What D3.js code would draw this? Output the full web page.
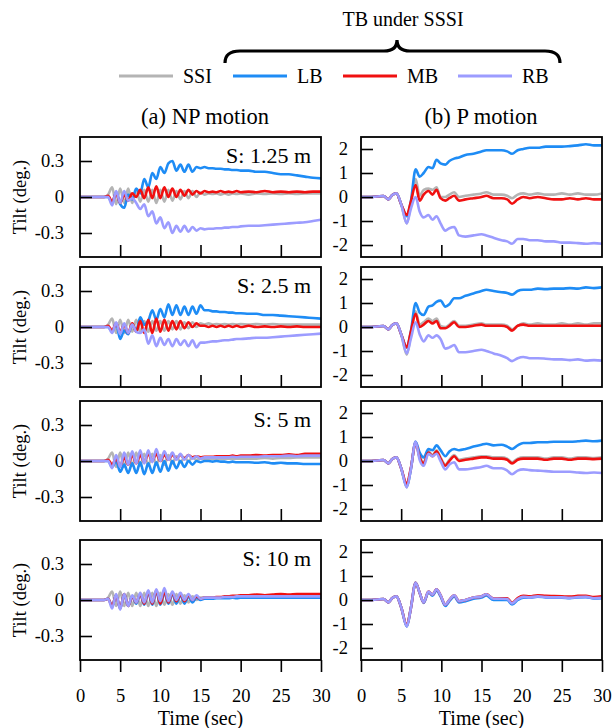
<!DOCTYPE html>
<html><head><meta charset="utf-8">
<script src="https://cdn.jsdelivr.net/npm/d3@7/dist/d3.min.js"></script>
<style>body{margin:0;background:#fff}svg{display:block}svg text{font-family:"Liberation Serif","Times New Roman",serif !important;fill:#000}</style>
</head><body>
<script>
// ---------------- DATA ----------------
const seriesNames = ["SSI","LB","MB","RB"];
const legendLabels = ["SSI","LB","MB","RB"];
const spacings = ["S: 1.25 m","S: 2.5 m","S: 5 m","S: 10 m"];
const colTitles = ["(a) NP motion","(b) P motion"];
const groupTitle = "TB under SSSI";
const xTicks = [0,5,10,15,20,25,30];
const yTicksNP = [-0.3,0,0.3];
const yTicksP = [-2,-1,0,1,2];

// time samples (sec)
const timeNP = [0,0.5,1,1.5,2,2.5,3, 3.5,4,4.5,5,5.5,6,6.5,7,7.5,8, 8.5,9,9.5,10,10.5,11,11.5,12,12.5,13,
  13.5,14,14.5,15,15.5,16,16.5,17,17.5,18, 18.5,19,19.5,20, 21,22,23,24,25,26,27,28,29,30];
const timeP = [0,1,2,2.8,3.4,3.9,4.4,5.0,5.7,6.2,6.8,7.3,7.8,8.4,8.9,9.4,9.9,10.5,11.0,11.6,12.2,13.0,14.0,15.0,15.6,16.5,
  17.5,18.2,18.8,19.5,20.2,21,22,23,24,25,26,27,28,29,30];

// ---- NP motion, tilt (deg) ----
const np125_SSI = [0,0,0,0,0,0,0, 0.02,0.08,-0.06,0.07,-0.05,0.07,-0.05,0.06,-0.04,0.06, -0.04,0.06,-0.05,0.06,-0.04,0.06,-0.03,0.05,-0.02,0.05,
  -0.01,0.05,0.0,0.04,0.02,0.03,0.025,0.03,0.02,0.03, 0.02,0.03,0.025,0.03, 0.02,0.03,0.025,0.03,0.025,0.03,0.025,0.03,0.03,0.03];
const np125_LB = [0,0,0,0,0,0,0, 0.0,-0.05,0.04,-0.06,-0.09,0.02,-0.02,0.07,0.03,0.15, 0.08,0.2,0.15,0.25,0.2,0.28,0.3,0.22,0.27,0.21,
  0.27,0.21,0.25,0.24,0.25,0.24,0.24,0.235,0.235,0.23, 0.23,0.225,0.225,0.22, 0.22,0.21,0.21,0.2,0.19,0.19,0.18,0.17,0.16,0.155];
const np125_MB = [0,0,0,0,0,0,0, 0.01,-0.04,0.03,-0.05,0.02,-0.03,0.03,0.0,0.06,-0.01, 0.08,-0.01,0.09,-0.01,0.08,0.0,0.07,0.0,0.06,0.01,
  0.06,0.02,0.05,0.03,0.05,0.04,0.045,0.04,0.05,0.04, 0.045,0.04,0.05,0.04, 0.045,0.04,0.05,0.04,0.045,0.04,0.045,0.04,0.045,0.045];
const np125_RB = [0,0,0,0,0,0,0, 0.0,-0.07,0.05,-0.05,0.05,-0.03,-0.01,-0.05,-0.1,-0.06, -0.16,-0.12,-0.22,-0.17,-0.26,-0.21,-0.3,-0.24,-0.29,-0.24,
  -0.29,-0.25,-0.28,-0.26,-0.27,-0.265,-0.265,-0.26,-0.26,-0.255, -0.255,-0.25,-0.25,-0.245, -0.24,-0.24,-0.235,-0.23,-0.225,-0.22,-0.215,-0.21,-0.2,-0.19];

const np25_SSI = [0,0,0,0,0,0,0, 0.02,0.07,-0.05,0.06,-0.05,0.06,-0.04,0.06,-0.04,0.05, -0.04,0.05,-0.03,0.05,-0.03,0.05,-0.02,0.05,-0.02,0.04,
  -0.01,0.04,0.0,0.03,0.02,0.03,0.02,0.025,0.02,0.025, 0.02,0.025,0.02,0.025, 0.02,0.025,0.02,0.025,0.02,0.02,0.02,0.02,0.02,0.02];
const np25_LB = [0,0,0,0,0,0,0, 0.0,-0.04,0.03,-0.1,-0.03,-0.06,0.02,-0.03,0.08,0.02, 0.05,0.14,0.06,0.15,0.08,0.19,0.1,0.18,0.1,0.17,
  0.1,0.17,0.11,0.18,0.14,0.14,0.13,0.13,0.125,0.125, 0.12,0.12,0.115,0.115, 0.11,0.11,0.1,0.1,0.095,0.09,0.085,0.08,0.075,0.07];
const np25_MB = [0,0,0,0,0,0,0, 0.01,-0.03,0.03,-0.04,0.02,-0.05,0.03,-0.04,0.05,-0.05, 0.06,-0.05,0.07,-0.04,0.06,-0.03,0.05,-0.02,0.05,-0.01,
  0.04,0.0,0.03,0.01,0.01,0.0,0.01,0.0,0.01,0.0, 0.01,0.0,0.01,0.0, 0.01,0.0,0.005,0.0,0.005,0.0,0.005,0.0,0.0,0.0];
const np25_RB = [0,0,0,0,0,0,0, 0.0,-0.05,0.04,-0.06,0.03,-0.05,0.02,-0.04,-0.05,-0.02, -0.14,-0.07,-0.16,-0.09,-0.15,-0.1,-0.16,-0.1,-0.15,-0.11,
  -0.16,-0.11,-0.17,-0.13,-0.13,-0.125,-0.12,-0.12,-0.115,-0.11, -0.11,-0.105,-0.1,-0.1, -0.095,-0.09,-0.09,-0.085,-0.08,-0.075,-0.07,-0.065,-0.06,-0.055];

const np5_SSI = [0,0,0,0,0,0,0, 0.02,0.07,-0.05,0.07,-0.05,0.07,-0.04,0.07,-0.04,0.06, -0.04,0.06,-0.03,0.05,-0.03,0.05,-0.02,0.04,-0.01,0.03,
  0.0,0.03,0.01,0.02,0.02,0.02,0.02,0.02,0.02,0.02, 0.02,0.02,0.02,0.02, 0.02,0.02,0.025,0.02,0.025,0.025,0.03,0.03,0.03,0.03];
const np5_LB = [0,0,0,0,0,0,0, 0.0,-0.05,0.0,-0.09,-0.03,-0.1,-0.02,-0.1,-0.01,-0.11, -0.02,-0.1,-0.01,-0.09,0.0,-0.08,0.0,-0.06,0.0,-0.05,
  0.0,-0.03,0.0,-0.01,0.0,0.0,-0.005,0.0,-0.005,-0.005, -0.01,-0.005,-0.01,-0.01, -0.01,-0.015,-0.01,-0.02,-0.015,-0.02,-0.02,-0.025,-0.025,-0.025];
const np5_MB = [0,0,0,0,0,0,0, 0.01,-0.03,0.02,-0.04,0.03,-0.03,0.05,-0.02,0.05,-0.01, 0.06,0.0,0.06,0.0,0.05,0.01,0.05,0.02,0.05,0.02,
  0.05,0.03,0.04,0.03,0.035,0.035,0.035,0.04,0.04,0.04, 0.04,0.045,0.04,0.045, 0.045,0.05,0.045,0.05,0.05,0.055,0.05,0.06,0.06,0.06];
const np5_RB = [0,0,0,0,0,0,0, 0.0,-0.06,0.05,-0.05,0.07,-0.03,0.08,-0.02,0.09,-0.02, 0.09,-0.01,0.1,0.0,0.08,0.01,0.07,0.01,0.06,0.01,
  0.05,0.02,0.04,0.02,0.03,0.03,0.03,0.03,0.03,0.03, 0.03,0.035,0.03,0.035, 0.035,0.035,0.04,0.04,0.04,0.045,0.04,0.045,0.045,0.045];

const np10_SSI = [0,0,0,0,0,0,0, 0.02,0.07,-0.05,0.07,-0.05,0.06,-0.05,0.06,-0.05,0.06, -0.05,0.06,-0.05,0.06,-0.04,0.05,-0.04,0.05,-0.03,0.04,
  -0.02,0.03,0.0,0.02,0.02,0.02,0.02,0.02,0.02,0.02, 0.02,0.02,0.02,0.02, 0.02,0.02,0.02,0.02,0.02,0.02,0.02,0.02,0.02,0.02];
const np10_LB = [0,0,0,0,0,0,0, 0.01,-0.05,0.04,-0.07,0.05,-0.05,0.03,-0.03,0.05,-0.04, 0.06,-0.04,0.07,-0.04,0.06,-0.03,0.05,-0.03,0.04,-0.03,
  0.03,-0.02,0.02,0.0,0.01,0.01,0.01,0.015,0.015,0.015, 0.015,0.02,0.015,0.02, 0.02,0.02,0.02,0.02,0.02,0.02,0.02,0.02,0.02,0.02];
const np10_MB = [0,0,0,0,0,0,0, 0.01,-0.05,0.04,-0.07,0.05,-0.05,0.03,-0.02,0.05,-0.03, 0.07,-0.03,0.08,-0.03,0.07,-0.02,0.06,-0.01,0.05,-0.01,
  0.04,0.0,0.03,0.01,0.02,0.02,0.02,0.025,0.025,0.03, 0.03,0.035,0.035,0.04, 0.04,0.045,0.04,0.045,0.05,0.045,0.05,0.05,0.05,0.05];
const np10_RB = [0,0,0,0,0,0,0, 0.01,-0.07,0.05,-0.08,0.05,-0.05,0.04,-0.02,0.06,-0.02, 0.08,-0.02,0.09,-0.01,0.1,-0.01,0.07,0.0,0.06,0.0,
  0.05,0.0,0.04,0.01,0.02,0.02,0.02,0.02,0.02,0.025, 0.025,0.025,0.03,0.03, 0.03,0.03,0.03,0.03,0.03,0.03,0.03,0.03,0.03,0.03];

// ---- P motion, tilt (deg) ----
const p125_SSI = [0,0,0.02,0.04,-0.1,0.08,0.15,-0.3, -1.1,-0.3,0.75,0.05,0.3,0.35,0.3,0.4,0.0,0.0,0.1,0.2,0.0,0.05,0.1,0.15,0.2,0.1,
  0.1,0.05,-0.05,0.1,0.15,0.1,0.15,0.1,0.1,0.15,0.1,0.15,0.1,0.1,0.15];
const p125_LB = [0,0,0.02,0.04,-0.1,0.08,0.15,-0.3, -0.8,-0.2,1.15,0.85,1.0,1.25,1.2,1.55,1.4,1.35,1.5,1.6,1.65,1.75,1.8,1.9,1.95,1.95,
  1.95,1.9,1.8,1.95,2.0,2.05,2.05,2.1,2.1,2.1,2.12,2.15,2.2,2.15,2.15];
const p125_MB = [0,0,0.02,0.04,-0.1,0.08,0.15,-0.3, -0.75,-0.2,0.5,-0.15,0.1,0.25,0.1,0.3,-0.05,-0.15,-0.05,0.05,-0.15,-0.1,-0.05,0.0,0.05,-0.05,
  -0.05,-0.1,-0.28,-0.1,0.0,-0.05,0.0,-0.05,-0.1,-0.1,-0.05,-0.1,-0.05,-0.1,-0.1];
const p125_RB = [0,0,0.02,0.04,-0.1,0.08,0.15,-0.3, -1.1,-0.5,0.0,-0.6,-0.85,-0.75,-0.95,-0.8,-1.1,-1.4,-1.3,-1.25,-1.6,-1.65,-1.6,-1.55,-1.6,-1.7,
  -1.8,-1.85,-1.95,-1.75,-1.75,-1.8,-1.8,-1.85,-1.85,-1.9,-1.9,-1.92,-1.95,-1.92,-1.95];

const p25_SSI = [0,0,0.02,0.04,-0.1,0.08,0.15,-0.3, -1.15,-0.35,0.65,0.1,0.2,0.35,0.25,0.35,0.05,0.0,0.1,0.25,0.05,0.05,0.1,0.15,0.1,0.1,
  0.1,0.05,-0.1,0.05,0.15,0.1,0.15,0.1,0.1,0.15,0.1,0.15,0.1,0.15,0.15];
const p25_LB = [0,0,0.02,0.04,-0.1,0.08,0.15,-0.3, -0.85,-0.2,1.0,0.6,0.5,0.85,0.9,1.05,1.1,0.85,0.95,1.2,1.2,1.3,1.4,1.5,1.55,1.5,
  1.45,1.42,1.35,1.5,1.55,1.55,1.6,1.58,1.6,1.6,1.62,1.6,1.65,1.62,1.65];
const p25_MB = [0,0,0.02,0.04,-0.1,0.08,0.15,-0.3, -0.85,-0.2,0.55,0.0,0.1,0.25,0.15,0.25,-0.05,-0.05,0.05,0.2,0.0,0.0,0.05,0.1,0.05,0.05,
  0.05,0.0,-0.15,0.05,0.1,0.05,0.05,0.05,0.05,0.05,0.05,0.05,0.05,0.05,0.05];
const p25_RB = [0,0,0.02,0.04,-0.1,0.08,0.15,-0.3, -1.1,-0.5,0.2,-0.3,-0.6,-0.35,-0.45,-0.35,-0.5,-0.9,-0.85,-0.75,-1.05,-1.05,-1.0,-0.95,-1.0,-1.1,
  -1.2,-1.3,-1.42,-1.3,-1.25,-1.3,-1.3,-1.32,-1.35,-1.35,-1.38,-1.35,-1.4,-1.38,-1.4];

const p5_SSI = [0,0,0.02,0.04,-0.1,0.08,0.15,-0.3, -1.1,-0.35,0.8,0.2,-0.05,0.4,0.25,0.45,0.15,-0.15,0.05,0.25,0.05,0.1,0.15,0.2,0.2,0.15,
  0.15,0.1,-0.05,0.1,0.15,0.15,0.15,0.1,0.15,0.15,0.1,0.15,0.15,0.12,0.15];
const p5_LB = [0,0,0.02,0.04,-0.1,0.08,0.15,-0.3, -1.05,-0.35,0.8,0.35,0.15,0.5,0.45,0.65,0.45,0.2,0.4,0.5,0.45,0.5,0.6,0.68,0.72,0.65,
  0.68,0.6,0.5,0.65,0.75,0.75,0.78,0.78,0.8,0.8,0.8,0.82,0.85,0.82,0.85];
const p5_MB = [0,0,0.02,0.04,-0.1,0.08,0.15,-0.3, -0.95,-0.3,0.75,0.15,-0.1,0.35,0.2,0.4,0.1,-0.2,0.0,0.2,0.0,0.05,0.1,0.15,0.15,0.1,
  0.1,0.05,-0.1,0.05,0.1,0.1,0.1,0.05,0.1,0.1,0.05,0.1,0.1,0.08,0.1];
const p5_RB = [0,0,0.02,0.04,-0.1,0.08,0.15,-0.3, -1.1,-0.35,0.8,0.05,-0.2,0.3,0.2,0.3,0.0,-0.35,-0.15,-0.05,-0.35,-0.35,-0.3,-0.25,-0.2,-0.3,
  -0.3,-0.4,-0.55,-0.4,-0.35,-0.38,-0.4,-0.42,-0.45,-0.45,-0.45,-0.48,-0.5,-0.48,-0.5];

const p10_SSI = [0,0,0.02,0.04,-0.1,0.08,0.15,-0.3, -1.1,-0.35,0.72,0.3,-0.1,0.35,0.22,0.45,0.2,-0.2,0.0,0.2,-0.05,0.0,0.1,0.15,0.24,0.05,
  0.05,0.05,-0.14,0.05,0.14,0.12,0.17,0.13,0.12,0.12,0.1,0.13,0.15,0.08,0.1];
const p10_LB = [0,0,0.02,0.04,-0.1,0.08,0.15,-0.3, -1.1,-0.35,0.72,0.3,-0.12,0.32,0.18,0.4,0.15,-0.25,-0.05,0.15,-0.1,-0.05,0.05,0.1,0.19,0.0,
  0.0,0.0,-0.19,0.0,0.1,0.1,0.14,0.11,0.1,0.1,0.08,0.11,0.12,0.06,0.08];
const p10_MB = [0,0,0.02,0.04,-0.1,0.08,0.15,-0.3, -1.05,-0.35,0.72,0.3,-0.1,0.35,0.22,0.45,0.2,-0.2,0.0,0.2,-0.05,0.0,0.1,0.15,0.24,0.06,
  0.07,0.07,-0.12,0.08,0.17,0.15,0.2,0.17,0.16,0.15,0.14,0.17,0.18,0.12,0.15];
const p10_RB = [0,0,0.02,0.04,-0.1,0.08,0.15,-0.3, -1.1,-0.35,0.72,0.3,-0.1,0.35,0.22,0.45,0.2,-0.2,0.0,0.2,-0.05,0.0,0.1,0.15,0.24,0.05,
  0.05,0.04,-0.14,0.04,0.13,0.11,0.15,0.12,0.11,0.11,0.09,0.12,0.13,0.07,0.09];

const npRows = [[np125_SSI,np125_LB,np125_MB,np125_RB],[np25_SSI,np25_LB,np25_MB,np25_RB],
                [np5_SSI,np5_LB,np5_MB,np5_RB],[np10_SSI,np10_LB,np10_MB,np10_RB]];
const pRows  = [[p125_SSI,p125_LB,p125_MB,p125_RB],[p25_SSI,p25_LB,p25_MB,p25_RB],
                [p5_SSI,p5_LB,p5_MB,p5_RB],[p10_SSI,p10_LB,p10_MB,p10_RB]];

// ---------------- STYLE / LAYOUT ----------------
const colors = {SSI:"#b4b4b4", LB:"#1e8cf5", MB:"#f01010", RB:"#9c9cff"};
const W = 615, H = 728;
const colX = [80, 361];
const panelW = 241, panelH = 120;
const rowY = [137, 267, 401, 540];

const svg = d3.select("body").append("svg").attr("width", W).attr("height", H);

// group title + brace
svg.append("text").attr("x", 403).attr("y", 26).attr("text-anchor","middle")
  .attr("font-size", 20).text(groupTitle);
svg.append("path")
  .attr("d","M225,63 Q225,51 240,51 L384,51 Q397,51 397,40 Q397,51 410,51 L545,51 Q560,51 560,63")
  .attr("fill","none").attr("stroke","#000").attr("stroke-width",3.2);

// legend
const legX = [119, 233, 343, 458];
seriesNames.forEach((s,i) => {
  svg.append("line").attr("x1", legX[i]).attr("x2", legX[i]+54).attr("y1", 76).attr("y2", 76)
    .attr("stroke", colors[s]).attr("stroke-width", 2.8);
  svg.append("text").attr("x", legX[i]+64).attr("y", 83).attr("font-size", 20).text(legendLabels[i]);
});

// column titles
svg.append("text").attr("x", 205).attr("y", 124).attr("text-anchor","middle").attr("font-size", 22.5).text(colTitles[0]);
svg.append("text").attr("x", 481).attr("y", 124).attr("text-anchor","middle").attr("font-size", 22.5).text(colTitles[1]);

const x = d3.scaleLinear().domain([0,30]).range([0, panelW]);
const yNP = d3.scaleLinear().domain([-0.5,0.5]).range([panelH, 0]);
const yP = d3.scaleLinear().domain([-2.5,2.5]).range([panelH, 0]);
const fmt = d => String(d);

svg.append("defs").append("clipPath").attr("id","clip")
  .append("rect").attr("x",0).attr("y",0).attr("width",panelW).attr("height",panelH);

for (let r = 0; r < 4; r++) {
  for (let c = 0; c < 2; c++) {
    const g = svg.append("g").attr("transform", `translate(${colX[c]},${rowY[r]})`);
    const y = c === 0 ? yNP : yP;
    const times = c === 0 ? timeNP : timeP;
    const rows = c === 0 ? npRows : pRows;

    const lg = g.append("g").attr("clip-path","url(#clip)");
    const line = d3.line().x(d => x(d[0])).y(d => y(d[1])).curve(d3.curveMonotoneX);
    seriesNames.forEach((s,i) => {
      const vals = rows[r][i];
      lg.append("path").datum(times.map((t,k) => [t, vals[k]]))
        .attr("d", line).attr("fill","none").attr("stroke", colors[s])
        .attr("stroke-width", 2.6).attr("stroke-linejoin","round");
    });

    const ya = g.append("g").call(d3.axisLeft(y).tickValues(c === 0 ? yTicksNP : yTicksP)
      .tickSize(-12).tickPadding(c === 0 ? 16 : 13).tickFormat(fmt));
    ya.select(".domain").remove();
    ya.selectAll("line").attr("stroke-width", 1.6);
    ya.selectAll("text").attr("font-size", 18.5);

    if (r < 3) {
      const xa = g.append("g").attr("transform", `translate(0,${panelH})`)
        .call(d3.axisBottom(x).tickValues([5,10,15,20,25]).tickSize(-12).tickFormat(""));
      xa.select(".domain").remove();
      xa.selectAll("line").attr("stroke-width", 1.6);
    } else {
      const xa = g.append("g").attr("transform", `translate(0,${panelH})`)
        .call(d3.axisBottom(x).tickValues(xTicks).tickSize(12).tickPadding(17).tickFormat(fmt));
      xa.select(".domain").remove();
      xa.selectAll("line").attr("stroke-width", 1.6);
      xa.selectAll("text").attr("font-size", 18.5);
      g.append("text").attr("x", panelW/2).attr("y", panelH + 65).attr("text-anchor","middle")
        .attr("font-size", 20).text("Time (sec)");
    }

    g.append("rect").attr("x",0).attr("y",0).attr("width",panelW).attr("height",panelH)
      .attr("fill","none").attr("stroke","#000").attr("stroke-width",1.8);

    if (c === 0) {
      g.append("text").attr("x", 231).attr("y", 26).attr("text-anchor","end")
        .attr("font-size", 22).text(spacings[r]);
      g.append("text").attr("transform", `translate(${26 - colX[0]},${panelH/2}) rotate(-90)`)
        .attr("text-anchor","middle").attr("font-size", 18.5).text("Tilt (deg.)");
    }
  }
}
</script>
</body></html>
